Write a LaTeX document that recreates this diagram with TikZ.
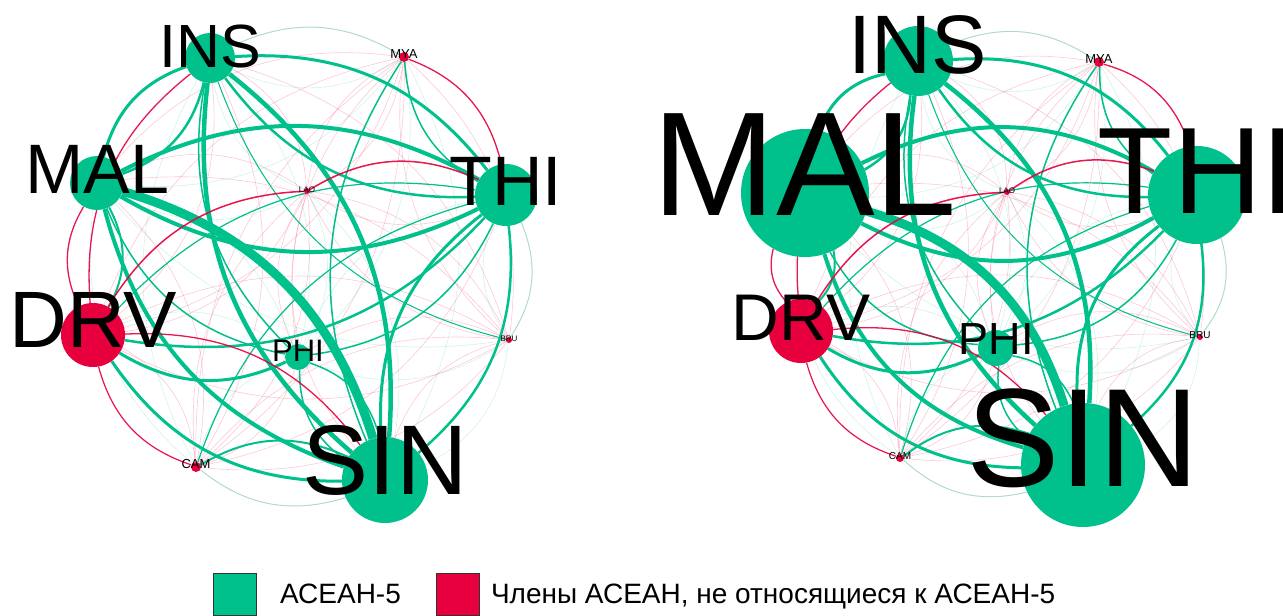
\documentclass[tikz,border=0pt]{standalone}
\usepackage{fontspec}
\setmainfont{Liberation Sans}
\usetikzlibrary{positioning}
\definecolor{agreen}{RGB}{0,192,139}
\definecolor{ared}{RGB}{232,0,62}
\pgfdeclarelayer{edges}
\pgfsetlayers{edges,main}
\tikzset{
  vertex/.style={circle, inner sep=0pt, draw=none},
  lbl/.style={inner sep=0pt, anchor=base, text=black},
  gedge/.style={agreen},
  redge/.style={ared, opacity=.9},
  lightg/.style={agreen!50, opacity=.6},
  faintg/.style={agreen!60, opacity=.3, line width=.6pt},
  faintr/.style={ared!70, opacity=.3, line width=.6pt},
  keybox/.style={draw=black!80, line width=.8pt, minimum width=43pt, minimum height=42pt, inner sep=0pt},
  keytext/.style={inner sep=0pt, text depth=0pt, font=\fontsize{28}{28}\selectfont}
}
\begin{document}
\begin{tikzpicture}[x=1pt,y=-1pt]
\useasboundingbox (0,0) rectangle (1283,616);
\foreach \n/\x/\y/\r/\s/\c in {INS/210/58/25/61/agreen, MYA/404/57/5/13/ared, MAL/97/183/27/70/agreen,
  LAO/307/191/3/8/ared, THI/506/195/31/70/agreen, DRV/93/335/32/80/ared, PHI/298/357/13/31/agreen,
  BRU/509/340/3/8/ared, CAM/196/467/5/13/ared, SIN/385/480/43/99/agreen}
{
  \node[vertex, fill=\c, minimum size={2*\r}] (L\n) at (\x,\y) {};
  \node[lbl, font=\fontsize{\s}{\s}\selectfont, yshift={-0.15*\s}] (L\n-t) at (\x,\y) {\n};
}
\foreach \n/\x/\y/\r/\s/\c in {INS/918/61/35/83/agreen, MYA/1099/62/5/13/ared, MAL/805/193/64/148/agreen,
  LAO/1007/192/3/8/ared, THI/1197/195/49/123/agreen, DRV/801/331/32/66/ared, PHI/996/348/18/45/agreen,
  BRU/1200/337/3/10/ared, CAM/900/458/4/10/ared, SIN/1083/465/62/140/agreen}
{
  \node[vertex, fill=\c, minimum size={2*\r}] (R\n) at (\x,\y) {};
  \node[lbl, font=\fontsize{\s}{\s}\selectfont, yshift={-0.15*\s}] (R\n-t) at (\x,\y) {\n};
}
\begin{pgfonlayer}{edges}
\foreach \g in {L,R} {
  \foreach \src/\st in {INS/faintg, MAL/faintg, THI/faintg, PHI/faintg, SIN/faintg,
    MYA/faintr, LAO/faintr, DRV/faintr, BRU/faintr, CAM/faintr}
    \foreach \tgt in {INS,MYA,MAL,LAO,THI,DRV,PHI,BRU,CAM,SIN}
      {\ifx\src\tgt\else\draw[\st] (\g\src) to[bend right=28] (\g\tgt);\fi}
  \foreach \src/\tgt/\w/\st in {SIN/MAL/9/gedge, MAL/SIN/4/gedge, INS/SIN/4.5/gedge, SIN/INS/4.5/gedge,
    INS/MAL/3/gedge, MAL/INS/2.5/gedge, THI/INS/3/gedge, INS/THI/2.5/gedge,
    MAL/THI/4/gedge, THI/MAL/4/gedge, THI/SIN/3/gedge, SIN/THI/2.5/gedge,
    DRV/SIN/3/gedge, DRV/THI/2.5/gedge, THI/DRV/1.2/gedge, DRV/PHI/3/gedge,
    PHI/SIN/1.5/gedge, SIN/PHI/1.5/gedge, PHI/THI/1.5/gedge, INS/PHI/1.5/gedge,
    MAL/PHI/1.5/gedge, SIN/CAM/2/gedge, MYA/SIN/1.5/gedge, MYA/THI/1.5/gedge,
    THI/CAM/1.2/gedge, INS/BRU/1/gedge, DRV/MAL/2/gedge,
    THI/MYA/1.3/redge, MAL/DRV/1.3/redge, INS/DRV/1.3/redge, THI/LAO/1.5/redge,
    LAO/DRV/1.5/redge, SIN/DRV/1.3/redge, DRV/CAM/1.2/redge,
    MYA/INS/1/lightg, CAM/SIN/1/lightg, BRU/THI/1/lightg}
    \draw[\st, line width=\w] (\g\src) to[bend right=28] (\g\tgt);
}
\end{pgfonlayer}
\node[keybox, fill=agreen] (keyA) at (235,594) {};
\node[keytext, right=23pt of keyA] (keyAt) {АСЕАН-5};
\node[keybox, fill=ared, right=35pt of keyAt] (keyB) {};
\node[keytext, right=11pt of keyB] (keyBt) {Члены АСЕАН, не относящиеся к АСЕАН-5};
\end{tikzpicture}
\end{document}
